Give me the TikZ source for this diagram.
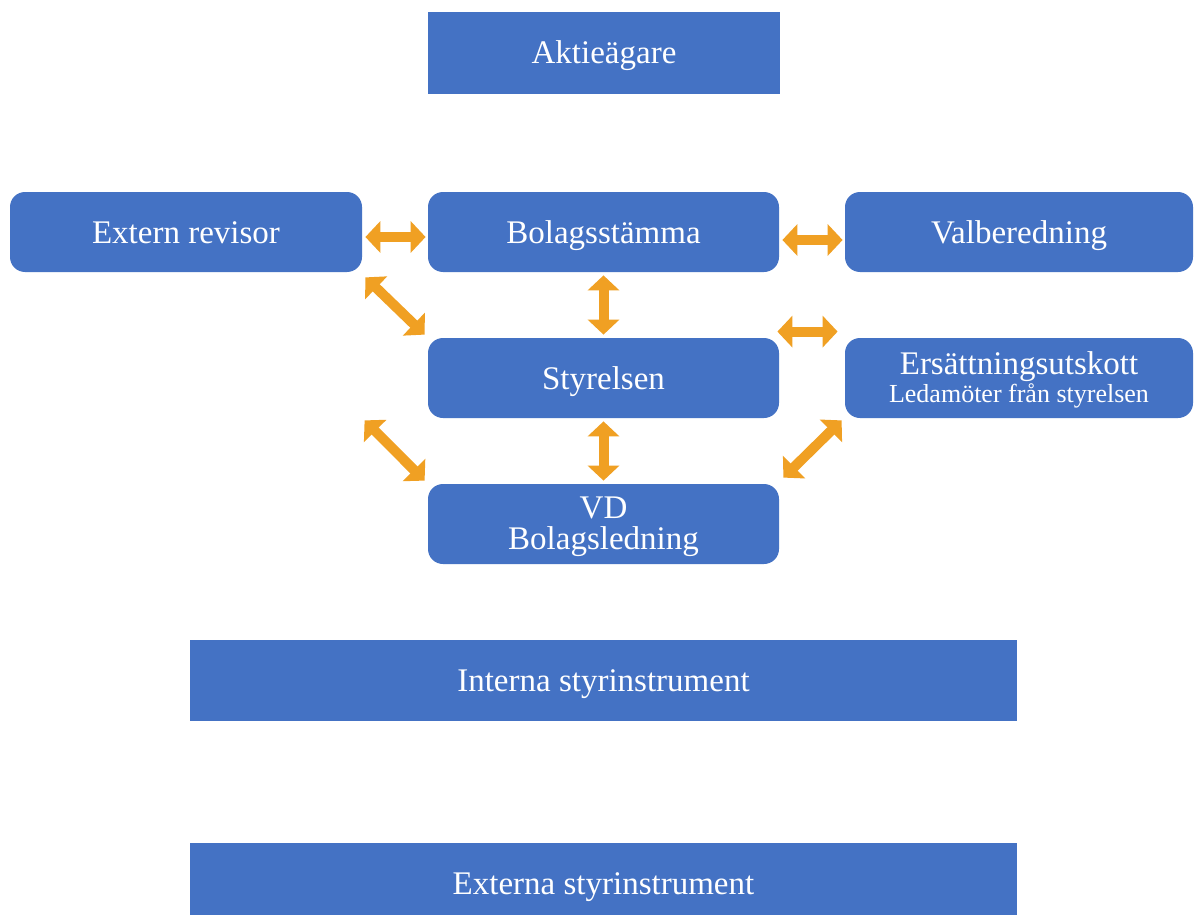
\documentclass[tikz,border=0pt]{standalone}
\usepackage{fontspec}
\setmainfont{Liberation Serif}
\usetikzlibrary{arrows.meta,calc}
\definecolor{boxblue}{HTML}{4472C4}
\definecolor{arrorange}{HTML}{F0A023}
\begin{document}
\begin{tikzpicture}[x=0.5pt,y=-0.5pt,
  box/.style={fill=boxblue, text=white, inner sep=0pt, align=center,
    font=\fontsize{16.5}{19}\selectfont},
  oneline/.style={text height=11pt, text depth=0pt},
  rbox/.style={box, rounded corners=7.5pt, minimum height=40pt},
  dbl/.style={draw=arrorange, line width=5pt,
    {Triangle[length=7.5pt,width=15.5pt]}-{Triangle[length=7.5pt,width=15.5pt]}}]
\clip (0,0) rectangle (1194,915);
\fill[white] (0,0) rectangle (1194,915);
% boxes
\node[box, oneline, minimum width=176pt, minimum height=41pt] (ak) at (604,53) {Aktieägare};
\node[rbox, oneline, minimum width=176pt] (er) at (186,232) {Extern revisor};
\node[rbox, oneline, minimum width=175.5pt] (bs) at (603.5,232) {Bolagsstämma};
\node[rbox, oneline, minimum width=174pt] (vb) at (1019,232) {Valberedning};
\node[rbox, oneline, minimum width=175.5pt] (sty) at (603.5,378) {Styrelsen};
\node[rbox, minimum width=174pt, font=\fontsize{16.5}{14}\selectfont] (ers) at (1019,378)
  {\rule{0pt}{13.3pt}Ersättningsutskott\\{\fontsize{13}{14}\selectfont Ledamöter från styrelsen}};
\node[rbox, minimum width=175.5pt, font=\fontsize{16.5}{15.5}\selectfont] (vd) at (603.5,524) {\rule{0pt}{13.9pt}VD\\Bolagsledning};
\node[box, oneline, minimum width=413.5pt, minimum height=40.5pt] (int) at (603.5,680) {Interna styrinstrument};
\node[box, oneline, minimum width=413.5pt, minimum height=40.5pt] (ext) at (603.5,883) {Externa styrinstrument};
% free ends
\coordinate (l2) at ($(sty.south west)+(-63,2)$);
% arrows
\draw[dbl] ($(er.east)+(3,5)$) -- ($(bs.west)+(-2,5)$);
\draw[dbl] ($(bs.east)+(3,8)$) -- ($(vb.west)+(-2,8)$);
\draw[dbl] ($(bs.south)+(0,3)$) -- ($(sty.north)+(0,-3)$);
\draw[dbl] ($(sty.south)+(0,3)$) -- ($(vd.north)+(0,-3)$);
\draw[dbl] ($(er.south east)+(3,5)$) -- ($(sty.north west)+(-3,-3)$);
\draw[dbl] (l2) -- ($(vd.north west)+(-3,-3)$);
\draw[dbl] ($(sty.north east)+(-2,-6)$) -- ($(ers.north west)+(-7,-6)$);
\draw[dbl] ($(ers.south west)+(-3,2)$) -- ($(vd.north east)+(4,-6)$);
\end{tikzpicture}
\end{document}
